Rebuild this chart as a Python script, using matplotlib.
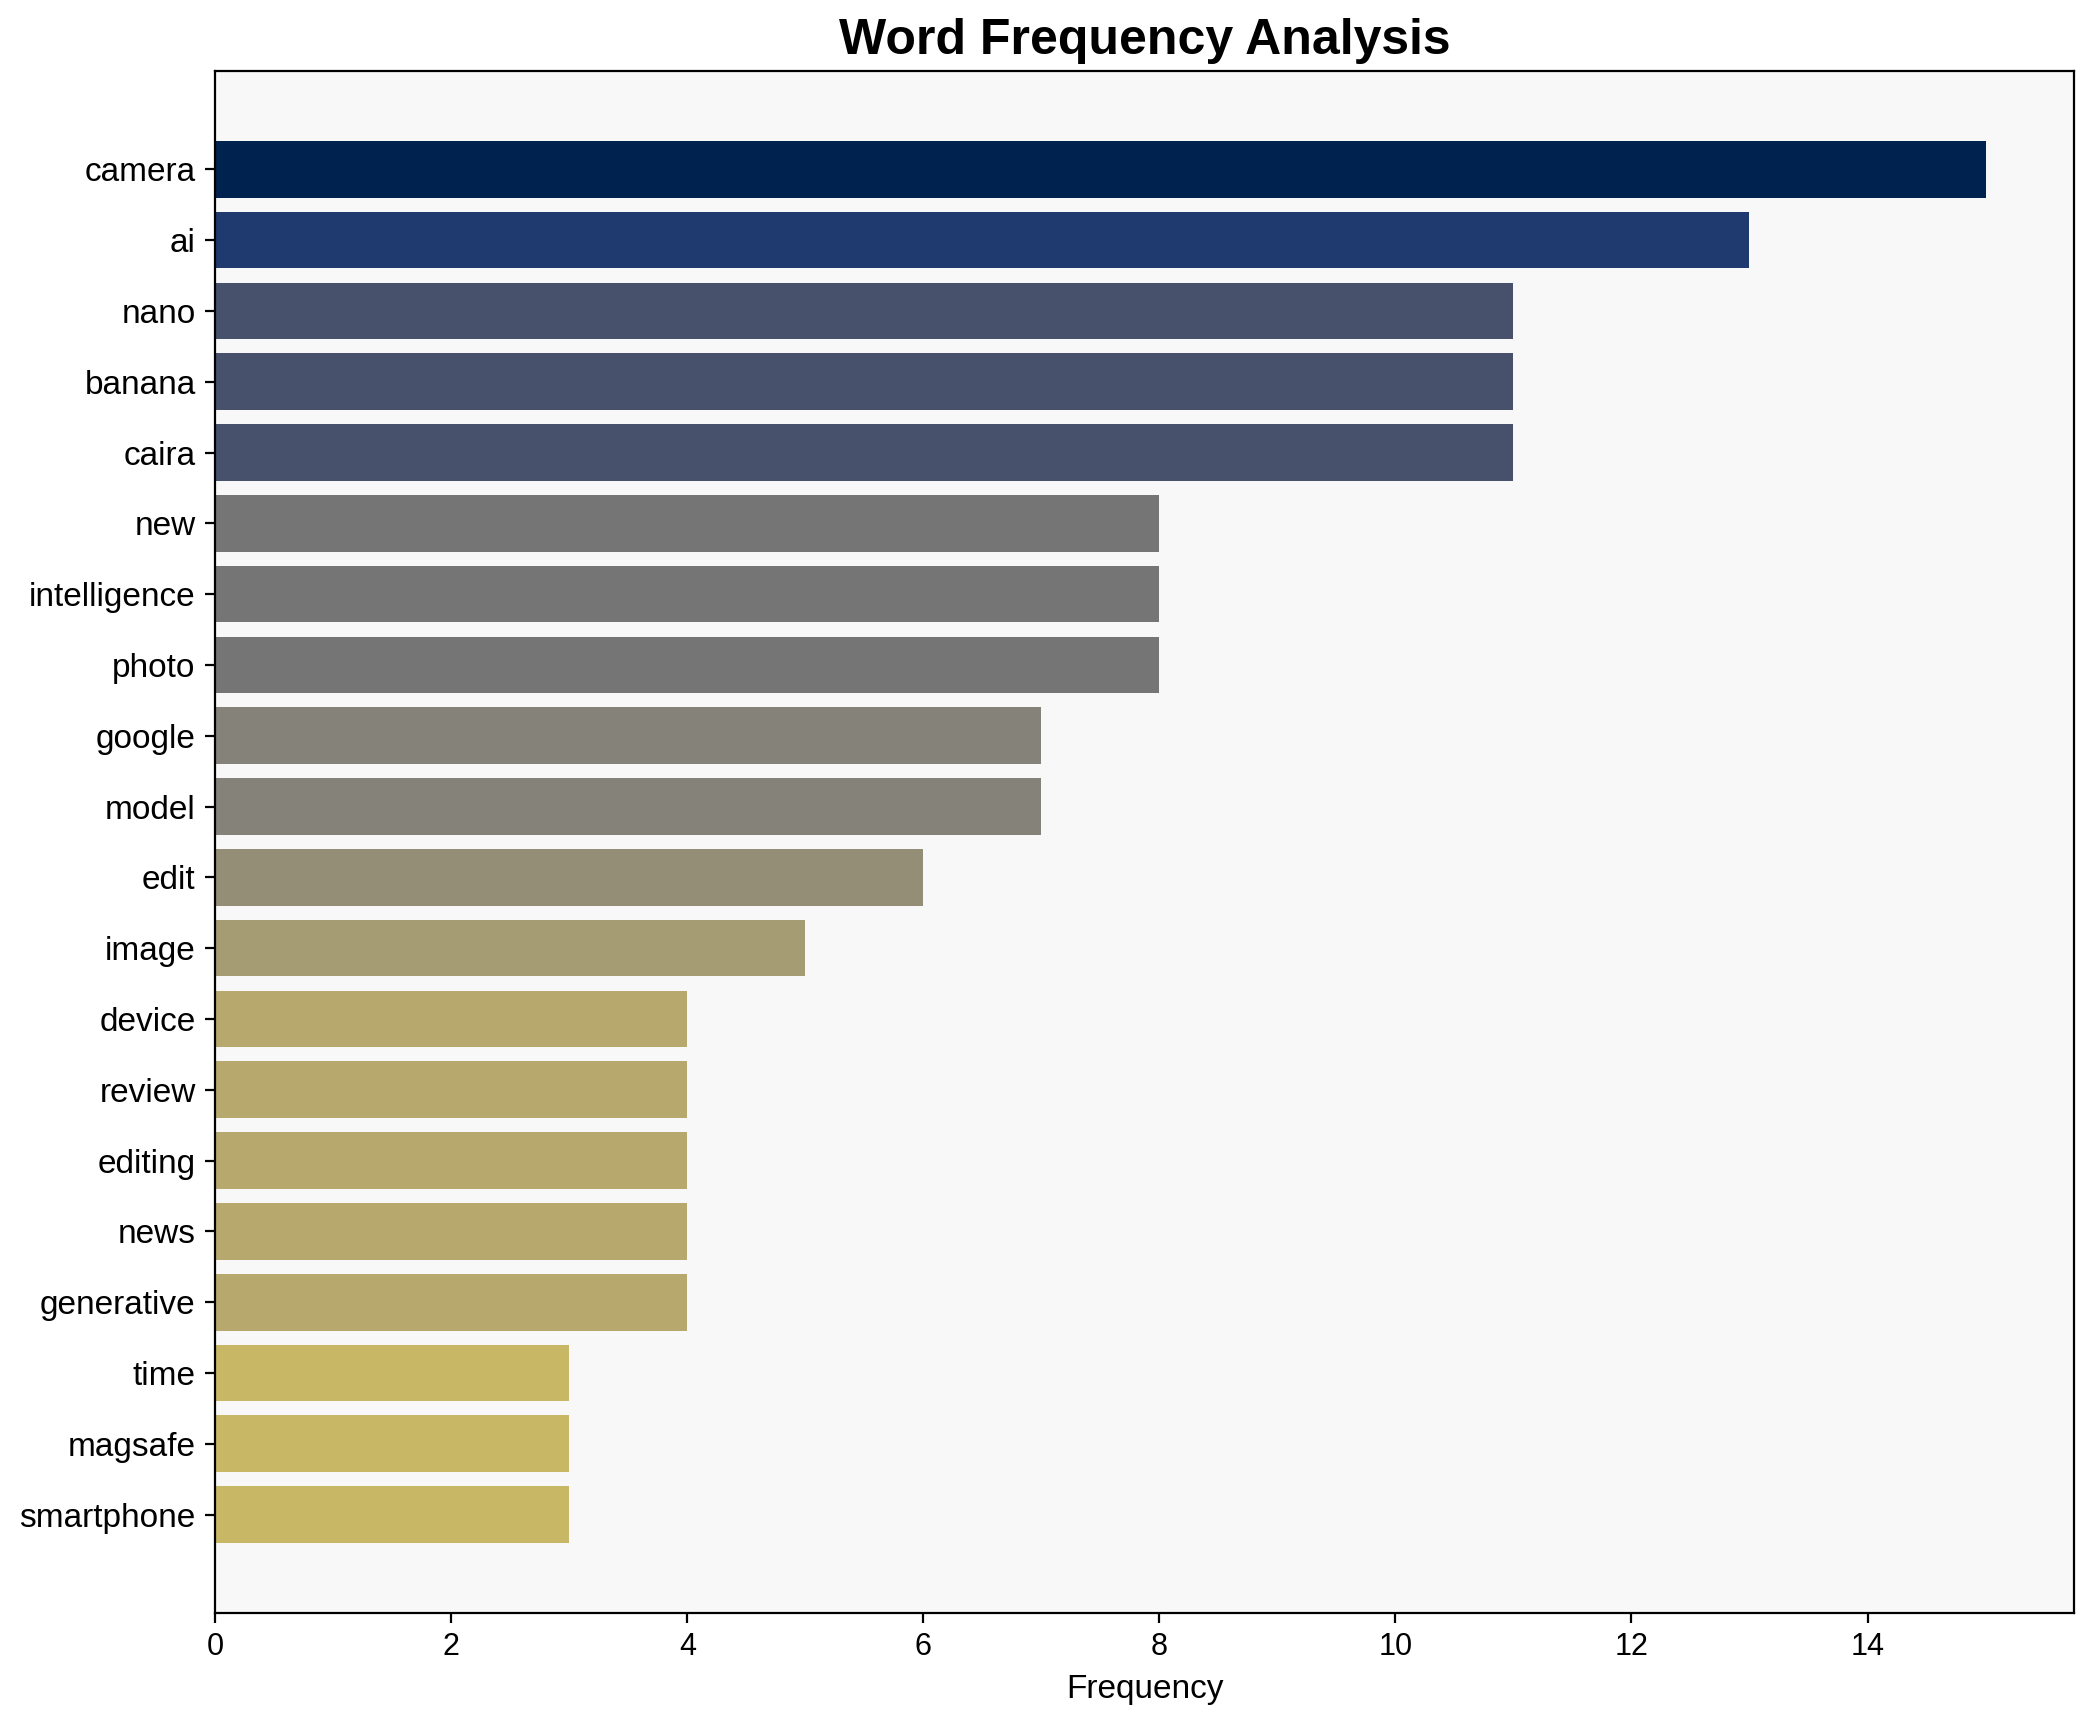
import matplotlib
matplotlib.use("Agg")
import matplotlib.pyplot as plt
import numpy as np

plt.rcParams['font.family'] = ['Liberation Sans', 'DejaVu Sans']

words = ["camera", "ai", "nano", "banana", "caira", "new", "intelligence", "photo",
         "google", "model", "edit", "image", "device", "review", "editing", "news",
         "generative", "time", "magsafe", "smartphone"]
freqs = [15, 13, 11, 11, 11, 8, 8, 8, 7, 7, 6, 5, 4, 4, 4, 4, 4, 3, 3, 3]

fig = plt.figure(figsize=(2095/200, 1722/200), dpi=200)
ax = fig.add_axes([0.1027, 0.0633, 0.8873, 0.8955])
ax.set_facecolor('#f8f8f8')

vals = np.array(freqs, dtype=float)
colors = plt.cm.cividis(1 - vals / vals.max())
y = np.arange(len(words))
ax.barh(y, vals, color=colors, height=0.8)
ax.set_yticks(y)
ax.set_yticklabels(words, fontsize=12)
ax.invert_yaxis()
ax.tick_params(axis='x', labelsize=11)
ax.set_xlabel('Frequency', fontsize=12)
ax.set_title('Word Frequency Analysis', fontsize=18, fontweight='bold')

fig.savefig('out.png', dpi=200)
